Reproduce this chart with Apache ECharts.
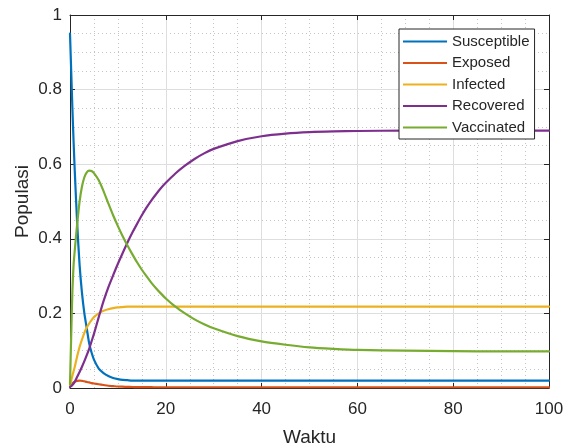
<!DOCTYPE html>
<html>
<head>
<meta charset="utf-8">
<script src="https://cdn.jsdelivr.net/npm/echarts@6/dist/echarts.min.js"></script>
<style>
  html, body { margin: 0; padding: 0; background: #fff; }
  #main { width: 574px; height: 446px; }
</style>
</head>
<body>
<div id="main"></div>
<script>
// waktu (sumbu x)
var waktu = [0, 0.25, 0.5, 0.75, 1, 1.5, 2, 2.5, 3, 3.5, 4, 4.5, 5, 6, 7, 8, 9, 10, 11, 12, 13, 14, 15, 16, 17, 18, 19, 20, 22, 24, 26, 28, 30, 35, 40, 45, 50, 55, 60, 70, 80, 90, 100];

var susceptible = [0.95, 0.85, 0.75, 0.66, 0.58, 0.44, 0.33, 0.255, 0.2, 0.16, 0.12, 0.095, 0.076, 0.052, 0.04, 0.032, 0.027, 0.024, 0.022, 0.021, 0.02, 0.02, 0.02, 0.02, 0.02, 0.02, 0.02, 0.02, 0.02, 0.02, 0.02, 0.02, 0.02, 0.02, 0.02, 0.02, 0.02, 0.02, 0.02, 0.02, 0.02, 0.02, 0.02];
var exposed = [0.003, 0.008, 0.012, 0.015, 0.017, 0.019, 0.02, 0.019, 0.018, 0.016, 0.015, 0.013, 0.012, 0.01, 0.008, 0.006, 0.005, 0.004, 0.0035, 0.003, 0.0027, 0.0025, 0.0023, 0.0022, 0.0021, 0.002, 0.002, 0.002, 0.002, 0.002, 0.002, 0.002, 0.002, 0.002, 0.002, 0.002, 0.002, 0.002, 0.002, 0.002, 0.002, 0.002, 0.002];
var infected = [0.005, 0.02, 0.033, 0.045, 0.057, 0.085, 0.11, 0.13, 0.148, 0.162, 0.173, 0.182, 0.19, 0.2, 0.207, 0.211, 0.214, 0.216, 0.217, 0.218, 0.218, 0.218, 0.218, 0.218, 0.218, 0.218, 0.218, 0.218, 0.218, 0.218, 0.218, 0.218, 0.218, 0.218, 0.218, 0.218, 0.218, 0.218, 0.218, 0.218, 0.218, 0.218, 0.218];
var recovered = [0.003, 0.005, 0.008, 0.012, 0.017, 0.03, 0.043, 0.057, 0.072, 0.088, 0.105, 0.125, 0.145, 0.19, 0.233, 0.27, 0.302, 0.333, 0.362, 0.39, 0.416, 0.44, 0.463, 0.484, 0.503, 0.52, 0.536, 0.55, 0.575, 0.596, 0.614, 0.629, 0.641, 0.662, 0.675, 0.682, 0.686, 0.688, 0.689, 0.69, 0.69, 0.69, 0.69];
var vaccinated = [0.01, 0.14, 0.26, 0.33, 0.37, 0.44, 0.5, 0.54, 0.565, 0.578, 0.583, 0.582, 0.576, 0.557, 0.528, 0.495, 0.463, 0.434, 0.407, 0.382, 0.359, 0.337, 0.317, 0.299, 0.282, 0.267, 0.253, 0.24, 0.218, 0.2, 0.184, 0.171, 0.16, 0.139, 0.125, 0.116, 0.109, 0.105, 0.102, 0.1, 0.099, 0.098, 0.098];

var namaSeri = ['Susceptible', 'Exposed', 'Infected', 'Recovered', 'Vaccinated'];
var warna = ['#0072BD', '#D95319', '#EDB120', '#7E2F8E', '#77AC30'];
var nilai = [susceptible, exposed, infected, recovered, vaccinated];

var xTicks = [0, 20, 40, 60, 80, 100];
var yTicks = [0, 0.2, 0.4, 0.6, 0.8, 1];

var myChart = echarts.init(document.getElementById('main'));

var axisColor = '#262626';
var fontName = 'Liberation Sans, Arial, sans-serif';

function pasangan(arr) {
    return waktu.map(function (t, i) { return [t, arr[i]]; });
}

var series = namaSeri.map(function (nama, i) {
    return {
        name: nama,
        type: 'line',
        xAxisIndex: 0,
        yAxisIndex: 0,
        data: pasangan(nilai[i]),
        symbol: 'none',
        smooth: 0.25,
        lineStyle: { color: warna[i], width: 2.2, cap: 'round', join: 'round' },
        itemStyle: { color: warna[i] },
        z: 3
    };
});

var option = {
    animation: false,
    backgroundColor: '#fff',
    grid: { left: 70, top: 15, right: 25, bottom: 58, containLabel: false, outerBoundsMode: 'none' },
    legend: {
        orient: 'vertical',
        left: 399,
        top: 29,
        data: namaSeri,
        icon: 'rect',
        itemWidth: 44,
        itemHeight: 2,
        itemGap: 6.5,
        itemTextGap: 3,
        padding: [5, 5, 4, 4],
        backgroundColor: '#fff',
        borderColor: axisColor,
        borderWidth: 1,
        borderRadius: 0,
        textStyle: { fontFamily: fontName, fontSize: 15, color: axisColor, lineHeight: 15 }
    },
    xAxis: [
        {
            type: 'value',
            min: 0,
            max: 100,
            interval: 20,
            name: 'Waktu',
            nameLocation: 'middle',
            nameGap: 40,
            nameTextStyle: { fontFamily: fontName, fontSize: 19, color: axisColor },
            axisLine: { onZero: false, lineStyle: { color: axisColor, width: 1 } },
            axisTick: { inside: true, length: 5, lineStyle: { color: axisColor } },
            axisLabel: {
                fontFamily: fontName, fontSize: 17, color: axisColor, margin: 13,
                formatter: function (v) { return xTicks.indexOf(v) >= 0 ? String(v) : ''; }
            },
            splitLine: { show: true, lineStyle: { color: '#dedede', width: 1 } },
            minorTick: { show: false, splitNumber: 4 },
            minorSplitLine: { show: true, lineStyle: { color: '#c4c4c4', width: 1, type: [1, 3] } }
        },
        {
            type: 'value',
            position: 'top',
            min: 0,
            max: 100,
            interval: 20,
            axisLine: { show: true, onZero: false, lineStyle: { color: axisColor, width: 1 } },
            axisTick: { inside: true, length: 5, lineStyle: { color: axisColor } },
            axisLabel: { show: false },
            splitLine: { show: false }
        }
    ],
    yAxis: [
        {
            type: 'value',
            min: 0,
            max: 1,
            interval: 0.2,
            name: 'Populasi',
            nameLocation: 'middle',
            nameGap: 38,
            nameMoveOverlap: false,
            nameTextStyle: { fontFamily: fontName, fontSize: 19, color: axisColor },
            axisLine: { show: true, onZero: false, lineStyle: { color: axisColor, width: 1 } },
            axisTick: { show: true, inside: true, length: 5, lineStyle: { color: axisColor } },
            axisLabel: {
                fontFamily: fontName, fontSize: 17, color: axisColor, margin: 8,
                formatter: function (v) {
                    var r = Math.round(v * 10) / 10;
                    return yTicks.indexOf(r) >= 0 ? String(r) : '';
                }
            },
            splitLine: { show: true, lineStyle: { color: '#dedede', width: 1 } },
            minorTick: { show: false, splitNumber: 4 },
            minorSplitLine: { show: true, lineStyle: { color: '#c4c4c4', width: 1, type: [1, 3] } }
        },
        {
            type: 'value',
            position: 'right',
            min: 0,
            max: 1,
            interval: 0.2,
            axisLine: { show: true, onZero: false, lineStyle: { color: axisColor, width: 1 } },
            axisTick: { show: true, inside: true, length: 5, lineStyle: { color: axisColor } },
            axisLabel: { show: false },
            splitLine: { show: false }
        }
    ],
    series: series
};

myChart.setOption(option);
</script>
</body>
</html>
